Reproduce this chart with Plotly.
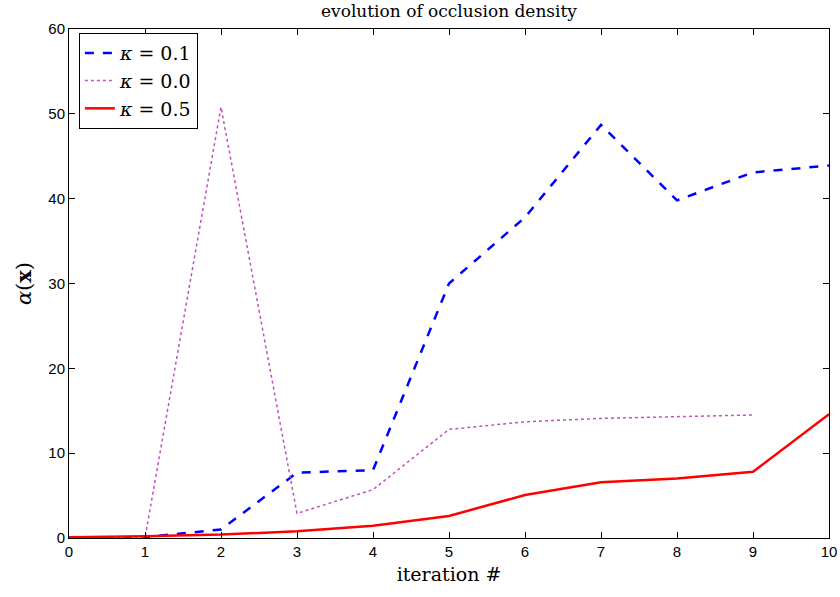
import plotly.graph_objects as go

iterations = list(range(11))
kappa_01 = [0.0, 0.1, 1.0, 7.7, 8.0, 30.0, 37.8, 48.7, 39.8, 43.1, 43.9]
kappa_00 = [0.0, 0.0, 50.8, 2.9, 5.7, 12.8, 13.7, 14.1, 14.3, 14.5]
kappa_05 = [0.1, 0.2, 0.4, 0.8, 1.45, 2.6, 5.07, 6.56, 7.0, 7.8, 14.6]

x_ticks = list(range(11))
y_ticks = [0, 10, 20, 30, 40, 50, 60]

serif = "DejaVu Serif, Liberation Serif, serif"
sans = "Liberation Sans, Arial, sans-serif"

fig = go.Figure()
fig.add_trace(go.Scatter(x=iterations, y=kappa_01, mode="lines",
                         name="<i>κ</i> = 0.1",
                         line=dict(color="#0000ff", width=2.5, dash="dash")))
fig.add_trace(go.Scatter(x=iterations[:len(kappa_00)], y=kappa_00, mode="lines",
                         name="<i>κ</i> = 0.0",
                         line=dict(color="#c050c0", width=1.5, dash="dot")))
fig.add_trace(go.Scatter(x=iterations, y=kappa_05, mode="lines",
                         name="<i>κ</i> = 0.5",
                         line=dict(color="#ff0000", width=2.5)))

axis_common = dict(showline=True, linecolor="black", linewidth=1, mirror="ticks",
                   ticks="inside", ticklen=6, tickcolor="black", showgrid=False,
                   zeroline=False, automargin=False,
                   tickfont=dict(family=sans, size=15, color="black"))

fig.update_layout(
    width=840, height=597,
    margin=dict(l=69, r=11, t=29, b=59),
    paper_bgcolor="white", plot_bgcolor="white",
    title=dict(text="evolution of occlusion density", x=0.5, xref="paper",
               xanchor="center", y=0.982, yanchor="middle",
               font=dict(family=serif, size=17, color="black")),
    xaxis=dict(range=[0, 10], tickvals=x_ticks,
               title=dict(text="iteration #", font=dict(family=serif, size=19, color="black"),
                          standoff=8),
               **axis_common),
    yaxis=dict(range=[0, 60], tickvals=y_ticks,
               title=dict(text="<i>α</i>(<b>x</b>)", font=dict(family=serif, size=21, color="black"),
                          standoff=10),
               **axis_common),
    legend=dict(x=0.013, y=0.992, xanchor="left", yanchor="top",
                bgcolor="white", bordercolor="black", borderwidth=1,
                font=dict(family=serif, size=19, color="black"),
                itemwidth=30, tracegroupgap=0),
    showlegend=True,
)

fig.write_html("out.html")
